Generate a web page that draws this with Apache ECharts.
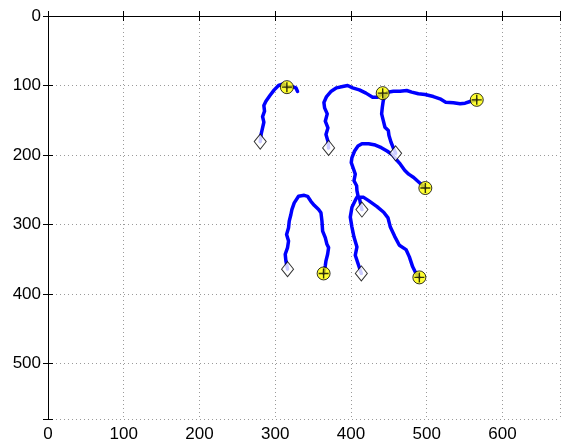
<!DOCTYPE html>
<html>
<head>
<meta charset="utf-8">
<script src="https://cdn.jsdelivr.net/npm/echarts@6/dist/echarts.min.js"></script>
<style>
html,body{margin:0;padding:0;background:#fff;}
#chart{width:563px;height:444px;}
</style>
</head>
<body>
<div id="chart"></div>
<script>
const xTicks = [0, 100, 200, 300, 400, 500, 600];
const yTicks = [0, 100, 200, 300, 400, 500];

const trackA = [[280.2,180.8],[281.5,169.7],[283.3,161],[285,152.9],[283.3,144.7],[285.9,137],[285,128.8],[287.7,122.6],[293,114.4],[298.7,106.3],[304.4,100],[310.6,97.6],[315.4,102.4],[322,101.4],[327.3,103.4],[329.5,108.7]];
const trackB = [[370.5,189.9],[369.6,180.3],[367,170.7],[369.6,161],[366.1,151.4],[368.7,140.9],[365.2,132.2],[364.3,124.5],[367.8,115.9],[374,108.2],[381,103.4],[389,101.4],[395.6,100],[402.2,103.4],[411,106.3],[419.8,111],[428.6,116.8],[435.2,116.8],[441.9,111]];
const trackC = [[459,197.6],[456,189.9],[452.9,181.7],[450.2,172.1],[449.3,164.9],[444.9,160.1],[442.7,150.5],[440.5,140.9],[441.4,131.3],[442.7,121.6],[444.9,114.4],[448.5,109.6],[456,108.2],[464.8,108.2],[473.6,107.2],[480.2,109.6],[489,112],[497.8,113],[508.8,115.9],[517.6,119.2],[525.1,124],[535.2,125],[544.1,126.4],[550.7,125.5],[557.3,123.1],[566.1,120.7]];
const trackD = [[413.7,370.5],[409.3,356.2],[405.7,344.3],[407.9,332.4],[404,318.1],[401.3,303.8],[399.1,289.5],[401.3,275.2],[406.6,263.3],[409.3,258.6],[407.9,251.4],[407.5,244.3],[404,237.1],[405.7,227.6],[403.5,220.5],[400.4,211],[401.3,203.8],[404.8,194.3],[409.3,187.1],[414.5,183.8],[423.3,183.8],[432.2,185.7],[440.1,189.5],[447.6,194.3],[455.1,200],[459.5,206.2],[465.2,213.3],[470.9,221.9],[476.2,227.6],[482.8,232.4],[491.6,241],[498.2,247.6]];
const trackE = [[414.5,278.6],[412.3,268.1],[411,261],[416.7,261],[423.3,265.7],[434.4,274.3],[443.2,282.4],[448.9,290.5],[452,303.8],[457.7,317.1],[463.9,330],[472.7,336.2],[477.1,346.7],[481.5,361],[485.9,370.5],[490.3,376.2]];
const trackF = [[316.3,364.3],[314.1,352.4],[313.2,342.9],[316.3,333.3],[317.6,323.8],[315,314.3],[317.6,304.8],[318.5,295.2],[320.7,285.7],[322,278.6],[325.1,269],[330.8,259.5],[338.3,258.1],[342.7,259.5],[347.1,266.7],[351.5,272.4],[357.3,278.6],[360.4,283.3],[361.7,295.2],[362.6,309.5],[366.1,319],[368.3,328.6],[370.5,333.3],[369.2,342.9],[367,352.4],[366.1,359.5],[363.9,370.5]];

const circleMarks = [[315.4,102.4],[441.9,111],[566.1,120.7],[498.2,247.6],[490.3,376.2],[363.9,370.5]];
const diamondMarks = [[280.2,180.8],[370.5,189.9],[459,197.6],[413.7,370.5],[414.5,278.6],[316.3,364.3]];

const tracks = [trackA, trackB, trackC, trackD, trackE, trackF];

const chart = echarts.init(document.getElementById('chart'), null, {renderer: 'canvas'});
const font = 'Liberation Sans, Arial, Helvetica, sans-serif';
const gridLine = {show: true, lineStyle: {color: '#9a9a9a', type: [1, 3], width: 1}};

const series = tracks.map(t => ({
  type: 'line', data: t, xAxisIndex: 0, yAxisIndex: 0,
  showSymbol: false, symbol: 'none', silent: true, animation: false,
  lineStyle: {color: '#0000ff', width: 3.5, join: 'round', cap: 'round'},
  z: 2
}));
series.push({
  type: 'scatter', data: diamondMarks, symbol: 'diamond', symbolSize: [12, 15],
  itemStyle: {color: '#ffffff', borderColor: '#000000', borderWidth: 1}, z: 3, animation: false
});
series.push({
  type: 'scatter', data: circleMarks, symbol: 'circle', symbolSize: 13,
  itemStyle: {color: '#ffff00', borderColor: '#000000', borderWidth: 1}, z: 4, animation: false
});
series.push({
  type: 'scatter', data: circleMarks,
  symbol: 'path://M-0.07,-0.5 H0.07 V-0.07 H0.5 V0.07 H0.07 V0.5 H-0.07 V0.07 H-0.5 V-0.07 H-0.07 Z',
  symbolSize: 10,
  itemStyle: {color: '#000000'}, z: 5, animation: false
});

chart.setOption({
  animation: false,
  grid: {left: 48, top: 16, right: 1, bottom: 25, containLabel: false},
  xAxis: [{
    type: 'value', min: 0, max: 676, interval: 100, position: 'bottom',
    axisLine: {show: true, lineStyle: {color: '#000', width: 1}},
    axisTick: {show: true, inside: true, length: 5, lineStyle: {color: '#000'}},
    axisLabel: {color: '#000', fontSize: 17, fontFamily: font, margin: 7,
      formatter: v => xTicks.indexOf(v) >= 0 ? String(v) : ''},
    splitLine: gridLine
  }, {
    type: 'value', min: 0, max: 676, interval: 100, position: 'top',
    axisLine: {show: true, lineStyle: {color: '#000', width: 1}},
    axisTick: {show: true, inside: true, length: 5, lineStyle: {color: '#000'}},
    axisLabel: {show: false}, splitLine: {show: false}
  }],
  yAxis: [{
    type: 'value', min: 0, max: 580, interval: 100, inverse: true, position: 'left',
    axisLine: {show: true, lineStyle: {color: '#000', width: 1}},
    axisTick: {show: true, inside: true, length: 5, lineStyle: {color: '#000'}},
    axisLabel: {color: '#000', fontSize: 17, fontFamily: font, margin: 7,
      formatter: v => yTicks.indexOf(v) >= 0 ? String(v) : ''},
    splitLine: gridLine
  }, {
    type: 'value', min: 0, max: 580, interval: 100, inverse: true, position: 'right',
    axisLine: {show: true, lineStyle: {color: '#000', width: 1}},
    axisTick: {show: true, inside: true, length: 5, lineStyle: {color: '#000'}},
    axisLabel: {show: false}, splitLine: {show: false}
  }],
  series: series
});
</script>
</body>
</html>
